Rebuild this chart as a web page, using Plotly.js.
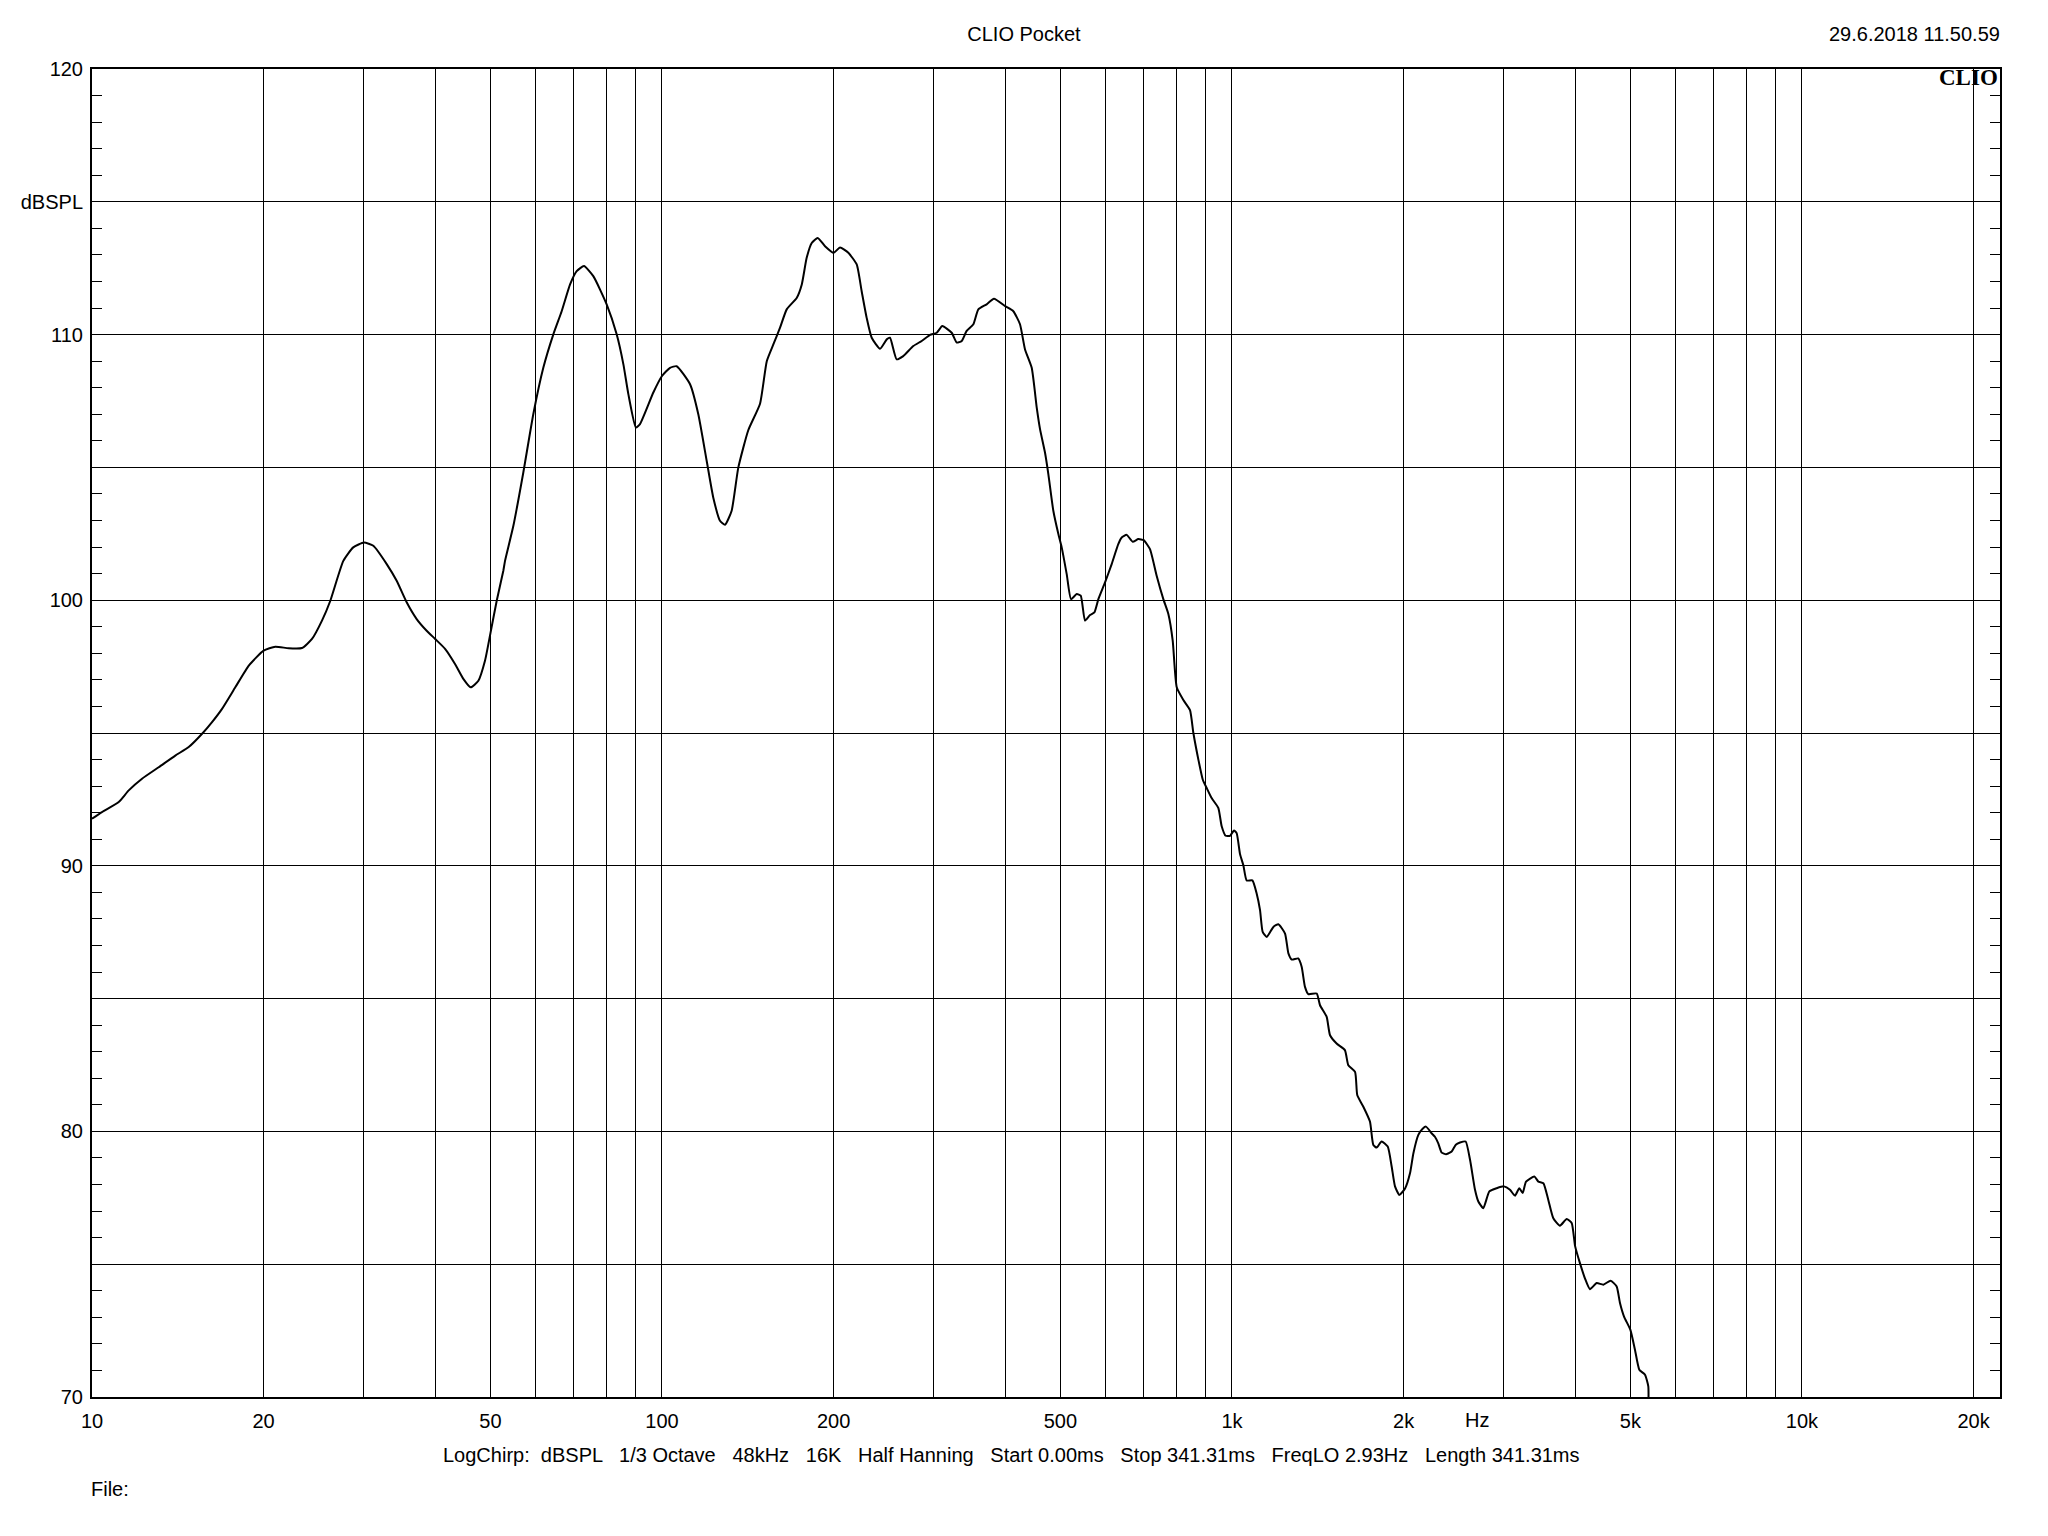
<!DOCTYPE html>
<html>
<head>
<meta charset="utf-8">
<script src="https://cdn.plot.ly/plotly-3.0.1.min.js"></script>
<style>html,body{margin:0;padding:0;background:#fff;}#chart{width:2048px;height:1536px;}</style>
</head>
<body>
<div id="chart"></div>
<script>
// Frequency (Hz)
const freq = [10, 10.41, 11.14, 11.60, 12.24, 13.09, 14.00, 14.78, 15.60, 16.24, 16.91, 17.84, 18.84, 20.0, 20.97, 22.13, 23.36, 24.32, 25.32, 26.19, 27.60, 28.73, 30.0, 31.16, 32.89, 34.24, 35.65, 37.12, 38.65, 40.0, 41.63, 43.34, 44.82, 46.17, 47.63, 48.93, 50.0, 51.29, 52.68, 53.04, 54.86, 57.11, 59.46, 61.91, 64.47, 66.68, 68.98, 70.85, 72.97, 75.77, 80, 83.27, 85.56, 87.31, 90, 91.49, 96.56, 100, 103.3, 106.1, 112.0, 115.8, 119.8, 123.0, 126.4, 129.0, 132.5, 136.1, 141.7, 148.6, 152.7, 156.8, 161.1, 165.5, 172.3, 175.9, 179.4, 183.1, 187.6, 193.2, 200, 205.3, 212.3, 219.6, 224.0, 228.6, 233.3, 241.3, 247.9, 251.2, 258.0, 265.0, 276.0, 285.5, 295.3, 303.4, 310.3, 322.3, 328.9, 335.6, 342.4, 351.8, 358.9, 371.2, 382.3, 400, 413.4, 424.7, 433.4, 445.3, 454.4, 460.5, 469.9, 476.3, 486.0, 495.9, 502.6, 512.9, 521.9, 534.1, 542.8, 552.3, 563.6, 573.5, 582.9, 598.8, 615.1, 631.7, 640.5, 653.5, 669.6, 684.9, 700, 718.0, 737.6, 757.8, 773.3, 787.0, 800, 821.6, 844, 855.6, 873.2, 888.8, 902.8, 921.1, 946.2, 959.2, 974.8, 992.0, 1008, 1019, 1033, 1047, 1061, 1086, 1105, 1120, 1132, 1151, 1182, 1206, 1239, 1256, 1273, 1307, 1325, 1343, 1361, 1408, 1427, 1466, 1486, 1526, 1578, 1600, 1644, 1659, 1700, 1746, 1770, 1794, 1830, 1876, 1906, 1932, 1966, 2012, 2053, 2081, 2123, 2160, 2190, 2240, 2270, 2301, 2333, 2374, 2400, 2429, 2470, 2512, 2570, 2616, 2669, 2705, 2760, 2828, 2913, 3000, 3074, 3137, 3192, 3236, 3280, 3392, 3447, 3518, 3589, 3662, 3762, 3865, 3944, 4000, 4078, 4161, 4246, 4363, 4482, 4617, 4730, 4794, 4873, 5000, 5093, 5183, 5304, 5375, 5380];
// Sound pressure level (dBSPL)
const spl = [91.77, 92.02, 92.40, 92.84, 93.28, 93.71, 94.15, 94.47, 94.97, 95.41, 95.91, 96.72, 97.54, 98.10, 98.25, 98.19, 98.20, 98.54, 99.23, 99.98, 101.48, 101.99, 102.17, 102.05, 101.36, 100.73, 99.92, 99.29, 98.85, 98.54, 98.17, 97.60, 97.04, 96.72, 96.97, 97.73, 98.75, 99.98, 101.11, 101.48, 102.8, 104.81, 107.00, 108.75, 110.01, 110.88, 111.89, 112.39, 112.58, 112.20, 111.13, 110.01, 108.88, 107.75, 106.50, 106.63, 107.82, 108.44, 108.75, 108.81, 108.13, 107.00, 105.24, 103.87, 102.99, 102.84, 103.37, 104.99, 106.4, 107.4, 109.00, 109.63, 110.26, 110.95, 111.38, 111.89, 112.89, 113.45, 113.64, 113.33, 113.08, 113.28, 113.08, 112.64, 111.64, 110.63, 109.88, 109.47, 109.82, 109.88, 109.07, 109.19, 109.57, 109.76, 109.99, 110.07, 110.32, 110.07, 109.70, 109.76, 110.14, 110.39, 110.95, 111.14, 111.35, 111.07, 110.88, 110.39, 109.44, 108.75, 107.25, 106.44, 105.55, 104.74, 103.36, 102.49, 101.99, 100.98, 100.04, 100.23, 100.17, 99.23, 99.44, 99.54, 100.04, 100.67, 101.36, 102.11, 102.36, 102.46, 102.20, 102.30, 102.26, 101.92, 100.92, 100.04, 99.48, 98.48, 96.72, 96.24, 95.86, 95.0, 93.99, 93.24, 92.93, 92.55, 92.18, 91.49, 91.13, 91.13, 91.33, 91.23, 90.44, 90.02, 89.45, 89.45, 88.95, 88.33, 87.51, 87.32, 87.70, 87.80, 87.45, 86.70, 86.47, 86.51, 86.20, 85.44, 85.17, 85.19, 84.75, 84.31, 83.62, 83.31, 83.06, 82.49, 82.24, 81.36, 80.93, 80.37, 79.49, 79.39, 79.62, 79.43, 78.68, 77.93, 77.61, 77.85, 78.43, 79.18, 79.87, 80.10, 80.18, 79.93, 79.80, 79.55, 79.20, 79.14, 79.18, 79.24, 79.50, 79.58, 79.62, 78.93, 77.80, 77.36, 77.11, 77.74, 77.86, 77.93, 77.80, 77.58, 77.86, 77.68, 78.11, 78.30, 78.11, 78.05, 77.42, 76.73, 76.45, 76.70, 76.55, 75.67, 75.04, 74.47, 74.06, 74.29, 74.23, 74.38, 74.16, 73.54, 73.03, 72.53, 71.78, 71.03, 70.84, 70.40, 70.0];

// Axis gridlines / labels
const xGrid = [10,20,30,40,50,60,70,80,90,100,200,300,400,500,600,700,800,900,1000,2000,3000,4000,5000,6000,7000,8000,9000,10000,20000];
const xLabels = ['10','20','','','50','','','','','100','200','','','500','','','','','1k','2k','','','5k','','','','','10k','20k'];
const yGrid = [70,75,80,85,90,95,100,105,110,115,120];
const yLabels = ['70','','80','','90','','100','','110','dBSPL','120'];

const chartTitle = 'CLIO Pocket';
const dateText = '29.6.2018 11.50.59';
const unitText = 'Hz';
const unitPos = 2690;
const infoText = 'LogChirp:  dBSPL   1/3 Octave   48kHz   16K   Half Hanning   Start 0.00ms   Stop 341.31ms   FreqLO 2.93Hz   Length 341.31ms';
const fileText = 'File:';

const FONT = 'Liberation Sans, Arial, sans-serif';
const FS = 20;

const trace = {
  x: freq, y: spl, type: 'scatter', mode: 'lines',
  line: {color: '#000', width: 2, shape: 'spline', smoothing: 0.5},
  hoverinfo: 'skip', showlegend: false
};

const layout = {
  width: 2048, height: 1536,
  margin: {l: 92, r: 48, t: 69, b: 139, pad: 0},
  paper_bgcolor: '#fff', plot_bgcolor: '#fff',
  font: {family: FONT, size: FS, color: '#000'},
  title: {text: chartTitle, x: 0.5, xanchor: 'center', xref: 'container', y: 1 - 34/1536, yref: 'container', yanchor: 'middle', font: {family: FONT, size: FS, color: '#000'}},
  xaxis: {
    type: 'log', range: [1, 4.3474], tickmode: 'array', tickvals: xGrid, ticktext: xLabels,
    showgrid: true, gridcolor: '#000', gridwidth: 1, zeroline: false,
    showline: true, linecolor: '#000', linewidth: 2, mirror: true,
    ticks: '', ticklabelstandoff: 5,
    tickfont: {family: FONT, size: FS, color: '#000'}
  },
  yaxis: {
    range: [70, 120], tickmode: 'array', tickvals: yGrid, ticktext: yLabels,
    showgrid: true, gridcolor: '#000', gridwidth: 1, zeroline: false,
    showline: true, linecolor: '#000', linewidth: 2, mirror: 'ticks',
    ticks: 'inside', ticklen: 10, tickcolor: '#000', tickwidth: 1, ticklabelstandoff: 3,
    minor: {tickmode: 'linear', tick0: 70, dtick: 1, ticks: 'inside', ticklen: 10, tickcolor: '#000', tickwidth: 1, showgrid: false},
    tickfont: {family: FONT, size: FS, color: '#000'}
  },
  annotations: [
    {text: dateText, xref: 'paper', yref: 'paper', x: 1, y: (1397 - 34) / 1328, xanchor: 'right', yanchor: 'middle', xshift: 2, showarrow: false, font: {family: FONT, size: FS, color: '#000'}},
    {text: '<b>CLIO</b>', xref: 'paper', yref: 'paper', x: 1, y: (1397 - 78) / 1328, xanchor: 'right', yanchor: 'middle', xshift: 0, showarrow: false, font: {family: 'Liberation Serif, Times New Roman, serif', size: 23, color: '#000'}},
    {text: unitText, xref: 'x', yref: 'paper', x: Math.log10(unitPos), y: (1397 - 1420) / 1328, xanchor: 'center', yanchor: 'middle', showarrow: false, font: {family: FONT, size: FS, color: '#000'}},
    {text: infoText, xref: 'paper', yref: 'paper', x: (1011.5 - 92) / 1908, y: (1397 - 1455) / 1328, xanchor: 'center', yanchor: 'middle', showarrow: false, font: {family: FONT, size: FS, color: '#000'}},
    {text: fileText, xref: 'paper', yref: 'paper', x: 0, y: (1397 - 1489) / 1328, xanchor: 'left', yanchor: 'middle', xshift: -3, showarrow: false, font: {family: FONT, size: FS, color: '#000'}}
  ]
};

Plotly.newPlot('chart', [trace], layout, {displayModeBar: false, staticPlot: true});
</script>
</body>
</html>
